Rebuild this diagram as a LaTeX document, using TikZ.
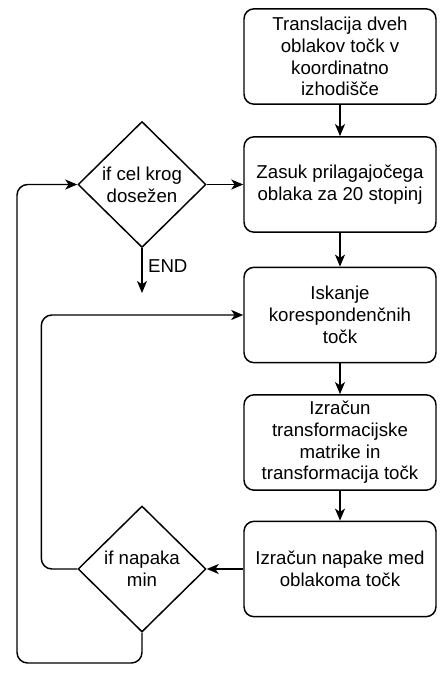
\documentclass[tikz,border=0pt]{standalone}
\usepackage{fontspec}
\setmainfont{Liberation Sans}
\usetikzlibrary{shapes.geometric,arrows.meta}
\begin{document}
\begin{tikzpicture}[x=0.75pt,y=-0.75pt,
  every node/.style={font=\fontsize{14}{16.3}\selectfont},
  stepbox/.style={draw,line width=1.1pt,rounded corners=7.5pt,minimum width=144pt,minimum height=71.5pt,align=center,inner sep=0pt},
  decision/.style={draw,line width=1.1pt,diamond,minimum width=96pt,minimum height=94.5pt,inner sep=0pt,align=center},
  conn/.style={line width=1.1pt,-{Stealth[length=9pt,width=7.5pt,inset=2.5pt]}},
  loopline/.style={conn,rounded corners=8pt}]
\useasboundingbox (0,0) rectangle (447,675);
\node[stepbox] (b1) at (340,56.5) {Translacija dveh\\oblakov točk v\\koordinatno\\izhodišče};
\node[stepbox] (b2) at (340,184.5) {Zasuk prilagajočega\\oblaka za 20 stopinj};
\node[stepbox] (b3) at (340,315) {Iskanje\\korespondenčnih\\točk};
\node[stepbox] (b4) at (340,442.5) {Izračun\\transformacijske\\matrike in\\transformacija točk};
\node[stepbox] (b5) at (340,569) {Izračun napake med\\oblakoma točk};
\node[decision] (d1) at (142,184.5) {if cel krog\\dosežen};
\node[decision] (d2) at (142,569) {if napaka\\min};
\coordinate (endpt) at (142,293);
\coordinate (lo) at (17,663);
\draw[conn] (b1) -- (b2);
\draw[conn] (b2) -- (b3);
\draw[conn] (b3) -- (b4);
\draw[conn] (b4) -- (b5);
\draw[conn] (d1.east) -- (b2.west);
\draw[conn] (b5.west) -- (d2.east);
\draw[conn] (d1.south) -- node[right,pos=0.4,inner sep=4pt] (endlbl) {END} (endpt);
\draw[loopline] (d2.west) -- ++(-36,0) |- (b3.west);
\draw[loopline] (d2.south) |- (lo) |- (d1.west);
\end{tikzpicture}
\end{document}
